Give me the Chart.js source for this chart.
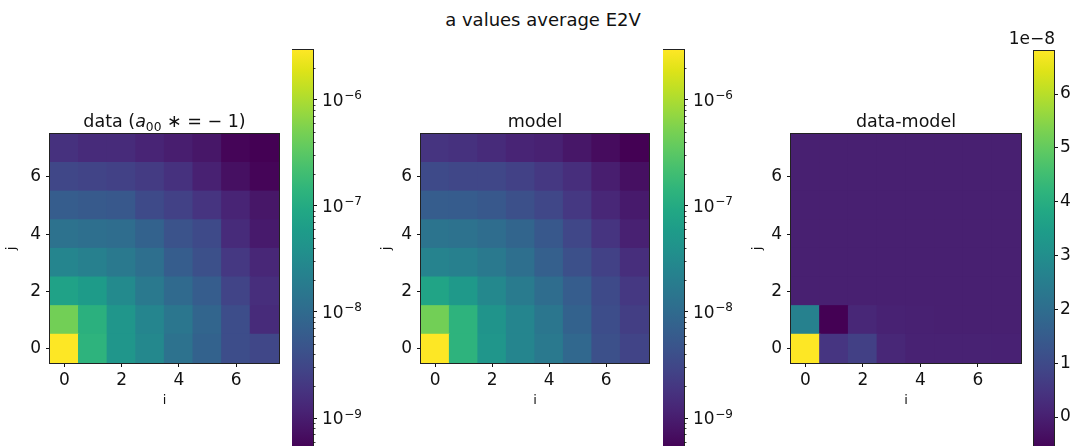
<!DOCTYPE html>
<html>
<head>
<meta charset="utf-8">
<script src="https://cdn.jsdelivr.net/npm/chart.js@4"></script>
<style>
  body{margin:0;background:#fff;overflow:hidden;width:1078px;height:446px;position:relative;font-family:"DejaVu Sans",sans-serif}
  canvas{position:absolute}
  #title{position:absolute;left:0;width:1086px;top:9px;line-height:22px;text-align:center;font-size:18px;color:#111}
</style>
</head>
<body>
<div id="title">a values average E2V</div>
<canvas id="hmData" width="283" height="346" style="left:0px;top:100px"></canvas>
<canvas id="hmModel" width="282" height="346" style="left:371px;top:100px"></canvas>
<canvas id="hmDiff" width="284" height="346" style="left:741px;top:100px"></canvas>
<canvas id="cbData" width="81" height="410" style="left:292px;top:40px"></canvas>
<canvas id="cbModel" width="81" height="410" style="left:663px;top:40px"></canvas>
<canvas id="cbDiff" width="84" height="432" style="left:1000px;top:20px"></canvas>
<script>
// i = column (x), j = row (y); rows listed j = 0 (bottom) .. 7 (top)
const iLabels = ['0','1','2','3','4','5','6','7'];
const jTicks = [0, 2, 4, 6];

const dataA = [
  [2.95e-6, 1.36e-7, 4.74e-8, 2.81e-8, 1.28e-8, 7.55e-9, 3.75e-9, 3.15e-9],
  [4.61e-7, 1.24e-7, 4.74e-8, 2.57e-8, 1.52e-8, 8.24e-9, 3.75e-9, 1.43e-9],
  [7.35e-8, 5.65e-8, 3.06e-8, 1.66e-8, 9.82e-9, 6.34e-9, 2.88e-9, 1.56e-9],
  [2.57e-8, 2.16e-8, 1.66e-8, 1.17e-8, 6.34e-9, 4.09e-9, 2.03e-9, 1.31e-9],
  [1.28e-8, 1.17e-8, 1.07e-8, 7.55e-9, 4.47e-9, 3.44e-9, 1.43e-9, 9.25e-10],
  [6.34e-9, 5.81e-9, 5.32e-9, 3.44e-9, 2.64e-9, 1.86e-9, 1.20e-9, 8.47e-10],
  [3.15e-9, 2.88e-9, 2.64e-9, 2.22e-9, 1.71e-9, 1.10e-9, 7.11e-10, 5.47e-10],
  [1.71e-9, 1.43e-9, 1.43e-9, 1.20e-9, 1.01e-9, 8.47e-10, 5.47e-10, 5.00e-10]
];

const modelA = [
  [2.95e-6, 1.36e-7, 4.74e-8, 2.57e-8, 1.66e-8, 8.99e-9, 4.09e-9, 2.88e-9],
  [4.61e-7, 1.36e-7, 4.35e-8, 2.57e-8, 1.52e-8, 7.55e-9, 3.75e-9, 2.42e-9],
  [8.02e-8, 5.18e-8, 2.81e-8, 1.81e-8, 1.07e-8, 6.34e-9, 3.44e-9, 2.03e-9],
  [2.36e-8, 2.16e-8, 1.66e-8, 1.17e-8, 6.92e-9, 4.09e-9, 2.64e-9, 1.56e-9],
  [1.39e-8, 1.28e-8, 1.07e-8, 8.24e-9, 5.32e-9, 3.15e-9, 1.86e-9, 1.10e-9],
  [6.34e-9, 6.10e-9, 5.32e-9, 4.09e-9, 3.15e-9, 2.03e-9, 1.31e-9, 9.25e-10],
  [3.44e-9, 3.15e-9, 3.10e-9, 2.64e-9, 2.03e-9, 1.56e-9, 1.01e-9, 7.11e-10],
  [1.86e-9, 1.71e-9, 1.43e-9, 1.20e-9, 1.10e-9, 8.47e-10, 6.52e-10, 5.00e-10]
];

const diffA = [
  [6.8e-8, 0.50e-8, 0.75e-8, 0.17e-8, 0.06e-8, 0.05e-8, 0.05e-8, 0.04e-8],
  [2.6e-8, -0.65e-8, 0.17e-8, 0.05e-8, 0.02e-8, 0.01e-8, 0.01e-8, 0.01e-8],
  [0, 0, 0, 0, 0, 0, 0, 0],
  [0, 0, 0, 0, 0, 0, 0, 0],
  [0, 0, 0, 0, 0, 0, 0, 0],
  [0, 0, 0, 0, 0, 0, 0, 0],
  [0, 0, 0, 0, 0, 0, 0, 0],
  [0, 0, 0, 0, 0, 0, 0, 0]
];

const logTicks = [1e-9, 1e-8, 1e-7, 1e-6];
const logTickExp = ['−9', '−8', '−7', '−6'];
const diffTicks = [0, 1e-8, 2e-8, 3e-8, 4e-8, 5e-8, 6e-8];
const diffTickLabels = ['0','1','2','3','4','5','6'];

// viridis, every 0.05
const VIRIDIS = ['#440154','#471365','#482475','#463480','#414487','#3b528b','#355f8d','#2f6c8e','#2a788e','#25848e',
  '#21918c','#1e9c89','#22a884','#2fb47c','#44bf70','#5ec962','#7ad151','#9bd93c','#bddf26','#dfe318','#fde725'];

function hexRgb(h){ return [1,3,5].map(k => parseInt(h.substr(k,2),16)); }
function viridis(t){
  t = Math.max(0, Math.min(1, t));
  const x = t*(VIRIDIS.length-1);
  const k = Math.min(Math.floor(x), VIRIDIS.length-2);
  const f = x-k, a = hexRgb(VIRIDIS[k]), b = hexRgb(VIRIDIS[k+1]);
  return 'rgb(' + a.map((c,n) => Math.round(c+(b[n]-c)*f)).join(',') + ')';
}
const flat = rows => rows.reduce((s,r) => s.concat(r), []);
function logNorm(rows){
  const lo = Math.log10(Math.min(...flat(rows))), hi = Math.log10(Math.max(...flat(rows)));
  return v => (Math.log10(v)-lo)/(hi-lo);
}
function linNorm(rows){
  const lo = Math.min(...flat(rows)), hi = Math.max(...flat(rows));
  return v => (v-lo)/(hi-lo);
}

Chart.defaults.font.family = '"DejaVu Sans", sans-serif';
Chart.defaults.color = '#111';
Chart.defaults.animation = false;

// black box round the plot area, like matplotlib spines
const frame = {
  id: 'frame',
  afterDraw(chart){
    const a = chart.chartArea, ctx = chart.ctx;
    ctx.save();
    ctx.strokeStyle = '#222'; ctx.lineWidth = 1;
    ctx.strokeRect(a.left-0.5, a.top-0.5, a.right-a.left+1, a.bottom-a.top+1);
    ctx.restore();
  }
};

// title with italic / subscript pieces
const subTitle = {
  id: 'subTitle',
  afterDraw(chart, args, opts){
    if(!opts.parts) return;
    const ctx = chart.ctx, a = chart.chartArea, size = opts.size;
    const fontOf = p => (p.italic ? 'italic ' : '') + (p.sub ? size*0.7 : size) + 'px "DejaVu Sans"';
    let w = 0;
    opts.parts.forEach(p => { ctx.font = fontOf(p); w += ctx.measureText(p.text).width; });
    let x = (a.left+a.right)/2 - w/2;
    const y = a.top - opts.offset;
    ctx.save();
    ctx.fillStyle = '#111'; ctx.textBaseline = 'alphabetic'; ctx.textAlign = 'left';
    opts.parts.forEach(p => {
      ctx.font = fontOf(p);
      ctx.fillText(p.text, x, y + (p.sub ? size*0.22 : 0));
      x += ctx.measureText(p.text).width;
    });
    ctx.restore();
  }
};

// minor ticks and 10^n labels on the log colour bars
const logBar = {
  id: 'logBar',
  afterDraw(chart, args, opts){
    if(!opts.on) return;
    const s = chart.scales.y, a = chart.chartArea, ctx = chart.ctx;
    ctx.save();
    ctx.strokeStyle = '#111'; ctx.lineWidth = 0.8;
    for(let e = -11; e <= -5; e++){
      for(let m = 2; m <= 9; m++){
        const v = m*Math.pow(10, e);
        if(v < s.min || v > s.max) continue;
        const py = Math.round(s.getPixelForValue(v)) + 0.5;
        ctx.beginPath(); ctx.moveTo(a.right, py); ctx.lineTo(a.right+2.5, py); ctx.stroke();
      }
    }
    ctx.fillStyle = '#111'; ctx.textAlign = 'left'; ctx.textBaseline = 'alphabetic';
    logTicks.forEach((v, k) => {
      const py = s.getPixelForValue(v);
      const x0 = a.right + 9;
      ctx.font = '17px "DejaVu Sans"';
      ctx.fillText('10', x0, py + 6.2);
      const w = ctx.measureText('10').width;
      ctx.font = '12px "DejaVu Sans"';
      ctx.fillText(logTickExp[k], x0 + w + 0.5, py - 0.5);
    });
    ctx.restore();
  }
};

const offsetText = {
  id: 'offsetText',
  afterDraw(chart, args, opts){
    if(!opts.text) return;
    const ctx = chart.ctx, a = chart.chartArea;
    ctx.save();
    ctx.font = '17px "DejaVu Sans"'; ctx.fillStyle = '#111';
    ctx.textAlign = 'right'; ctx.textBaseline = 'middle';
    ctx.fillText(opts.text, a.right + 1, a.top - 11);
    ctx.restore();
  }
};

function heatmap(id, rows, norm, parts, jPad){
  return new Chart(document.getElementById(id), {
    type: 'bar',
    data: {
      labels: iLabels,
      datasets: rows.map((row, j) => ({
        data: row.map(() => [j-0.5, j+0.5]),
        backgroundColor: row.map(v => viridis(norm(v))),
        borderWidth: 0,
        inflateAmount: 0.6,
        grouped: false,
        barPercentage: 1,
        categoryPercentage: 1
      }))
    },
    options: {
      responsive: false,
      layout: {padding: {left: 0, top: 34, right: 4, bottom: 38}},
      plugins: {
        legend: {display: false},
        tooltip: {enabled: false},
        subTitle: {parts: parts, size: 17.5, offset: 7}
      },
      scales: {
        x: {
          type: 'category',
          offset: true,
          border: {display: false},
          grid: {offset: false, drawOnChartArea: false, tickLength: 4, color: '#111'},
          ticks: {
            autoSkip: false, maxRotation: 0, padding: 3, font: {size: 17},
            callback(v, idx){ return idx % 2 ? null : this.getLabelForValue(v); }
          },
          title: {display: true, text: 'i', font: {size: 13}, padding: 0},
          afterFit(s){ s.height = 45; }
        },
        y: {
          type: 'linear',
          min: -0.5, max: 7.5,
          afterBuildTicks(s){ s.ticks = jTicks.map(v => ({value: v})); },
          border: {display: false},
          grid: {drawOnChartArea: false, tickLength: 4, color: '#111'},
          ticks: {padding: 5, font: {size: 17}},
          title: {display: true, text: 'j', font: {size: 13}, padding: {top: jPad, bottom: 0}},
          afterFit(s){ s.width = 50; s.paddingTop = 0; s.paddingBottom = 0; }
        }
      }
    },
    plugins: [frame, subTitle]
  });
}

function gradientFill(ctx){
  const a = ctx.chart.chartArea;
  if(!a) return null;
  const g = ctx.chart.ctx.createLinearGradient(0, a.bottom, 0, a.top);
  VIRIDIS.forEach((c, k) => g.addColorStop(k/(VIRIDIS.length-1), c));
  return g;
}

function colorbar(id, rows, yScale, padLeft, padTop, axisWidth, extra){
  const vals = flat(rows);
  const lo = Math.min(...vals), hi = Math.max(...vals);
  return new Chart(document.getElementById(id), {
    type: 'bar',
    data: {
      labels: [''],
      datasets: [{
        data: [[lo, hi]],
        backgroundColor: gradientFill,
        borderWidth: 0,
        barPercentage: 1,
        categoryPercentage: 1
      }]
    },
    options: {
      responsive: false,
      layout: {padding: {left: padLeft, top: padTop, right: 0, bottom: 0}},
      plugins: Object.assign({legend: {display: false}, tooltip: {enabled: false}}, extra),
      scales: {
        x: {display: false, offset: true},
        y: Object.assign({
          position: 'right',
          min: lo, max: hi,
          border: {display: false},
          grid: {drawOnChartArea: false, tickLength: 4, color: '#111'},
          afterFit(s){ s.width = axisWidth; s.paddingTop = 0; s.paddingBottom = 0; }
        }, yScale)
      }
    },
    plugins: [frame, logBar, offsetText]
  });
}

heatmap('hmData', dataA, logNorm(dataA),
  [{text: 'data ('}, {text: 'a', italic: true}, {text: '00', sub: true}, {text: ' ∗ = − 1)'}], 4.2);
heatmap('hmModel', modelA, logNorm(modelA), [{text: 'model'}], 8.2);
heatmap('hmDiff', diffA, linNorm(diffA), [{text: 'data-model'}], 9.2);

const logAxis = {
  type: 'logarithmic',
  afterBuildTicks(s){ s.ticks = logTicks.map(v => ({value: v, major: true})); },
  ticks: {display: false}
};
colorbar('cbData', dataA, logAxis, 0, 10, 60, {logBar: {on: true}});
colorbar('cbModel', modelA, logAxis, 0, 10, 60, {logBar: {on: true}});
colorbar('cbDiff', diffA, {
  type: 'linear',
  afterBuildTicks(s){ s.ticks = diffTicks.map(v => ({value: v})); },
  ticks: {padding: 2, font: {size: 17}, callback: v => diffTickLabels[diffTicks.indexOf(v)]}
}, 34, 31, 30, {offsetText: {text: '1e−8'}});
</script>
</body>
</html>
